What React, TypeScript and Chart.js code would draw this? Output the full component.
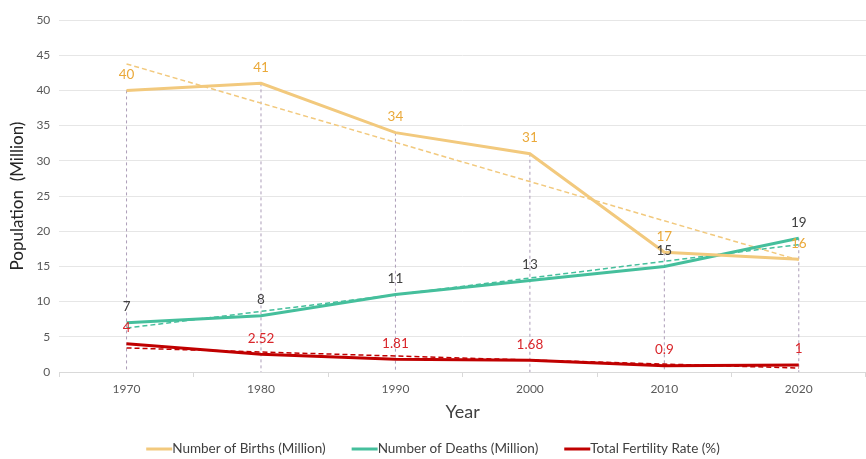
import React, { useEffect, useRef } from "react";
import { Chart, registerables } from "chart.js";

Chart.register(...registerables);

const years = ["1970", "1980", "1990", "2000", "2010", "2020"];
const births = [40, 41, 34, 31, 17, 16];
const deaths = [7, 8, 11, 13, 15, 19];
const fertility = [4, 2.52, 1.81, 1.68, 0.9, 1];
const seriesNames = ["Number of Births (Million)", "Number of Deaths (Million)", "Total Fertility Rate (%)"];

const BIRTH_COLOR = "#F2C97D";
const DEATH_COLOR = "#45BF9C";
const TFR_COLOR = "#C00000";
const LABEL_COLORS = ["#EAA93A", "#404040", "#D9262B"];

function linearTrend(values: number[]): number[] {
  const n = values.length;
  const mx = (n - 1) / 2;
  const my = values.reduce((a, b) => a + b, 0) / n;
  let sxy = 0;
  let sxx = 0;
  values.forEach((v, i) => {
    sxy += (i - mx) * (v - my);
    sxx += (i - mx) * (i - mx);
  });
  const slope = sxy / sxx;
  return values.map((_, i) => my + slope * (i - mx));
}

const dropLines = {
  id: "dropLines",
  beforeDatasetsDraw(chart: any) {
    const { ctx, chartArea, scales } = chart;
    ctx.save();
    ctx.strokeStyle = "#AC9DB8";
    ctx.lineWidth = 1;
    ctx.setLineDash([3, 3]);
    years.forEach((_, i) => {
      const top = Math.max(births[i], deaths[i], fertility[i]);
      const x = scales.x.getPixelForValue(i);
      ctx.beginPath();
      ctx.moveTo(x, scales.y.getPixelForValue(top));
      ctx.lineTo(x, chartArea.bottom);
      ctx.stroke();
    });
    ctx.restore();
  },
};

const valueLabels = {
  id: "valueLabels",
  afterDatasetsDraw(chart: any) {
    const { ctx } = chart;
    ctx.save();
    ctx.font = "13.5px Lato";
    ctx.textAlign = "center";
    ctx.textBaseline = "middle";
    [0, 1, 2].forEach((di) => {
      const meta = chart.getDatasetMeta(di);
      const data = chart.data.datasets[di].data as number[];
      ctx.fillStyle = LABEL_COLORS[di];
      meta.data.forEach((pt: any, i: number) => {
        ctx.fillText(String(data[i]), pt.x, pt.y - 16);
      });
    });
    ctx.restore();
  },
};

const bottomLegend = {
  id: "bottomLegend",
  afterDraw(chart: any) {
    const { ctx } = chart;
    const colors = [BIRTH_COLOR, DEATH_COLOR, TFR_COLOR];
    ctx.save();
    ctx.font = "13.5px Lato";
    ctx.textBaseline = "middle";
    const lineW = 26;
    const gap = 26;
    const widths = seriesNames.map((t) => ctx.measureText(t).width);
    const total = widths.reduce((a, b) => a + b, 0) + lineW * 3 + gap * 2;
    let x = (chart.width - total) / 2;
    const y = 449;
    seriesNames.forEach((t, i) => {
      ctx.strokeStyle = colors[i];
      ctx.lineWidth = 3;
      ctx.beginPath();
      ctx.moveTo(x, y);
      ctx.lineTo(x + lineW, y);
      ctx.stroke();
      ctx.fillStyle = "#404040";
      ctx.fillText(t, x + lineW, y);
      x += lineW + widths[i] + gap;
    });
    ctx.restore();
  },
};

export default function App() {
  const ref = useRef<HTMLCanvasElement>(null);
  useEffect(() => {
    document.body.style.margin = "0";
    const ds = (label: string, data: number[], color: string) => ({
      label,
      data,
      borderColor: color,
      backgroundColor: color,
      borderWidth: 3,
      pointRadius: 0,
      tension: 0,
    });
    const trend = (data: number[], color: string) => ({
      label: "trend",
      data: linearTrend(data),
      borderColor: color,
      backgroundColor: color,
      borderWidth: 1.5,
      borderDash: [5, 3],
      pointRadius: 0,
    });
    const chart = new Chart(ref.current!, {
      type: "line",
      data: {
        labels: years,
        datasets: [
          ds(seriesNames[0], births, BIRTH_COLOR),
          ds(seriesNames[1], deaths, DEATH_COLOR),
          ds(seriesNames[2], fertility, TFR_COLOR),
          trend(births, BIRTH_COLOR),
          trend(deaths, DEATH_COLOR),
          trend(fertility, TFR_COLOR),
        ],
      },
      options: {
        animation: false,
        responsive: false,
        layout: { padding: { top: 20, left: 7, right: 0, bottom: 31 } },
        plugins: {
          tooltip: { enabled: false },
          legend: { display: false },
        },
        scales: {
          x: {
            offset: true,
            grid: { display: true, drawOnChartArea: false, offset: true, tickLength: 5, color: "#D9D9D9" },
            border: { color: "#D9D9D9" },
            ticks: { font: { family: "Lato", size: 12 }, color: "#595959", padding: 5 },
            title: { display: true, text: "Year", font: { family: "Lato", size: 18 }, color: "#404040", padding: { top: 0, bottom: 5 } },
          },
          y: {
            min: 0,
            max: 50,
            ticks: { stepSize: 5, font: { family: "Lato", size: 12 }, color: "#595959", padding: 9 },
            grid: { color: "#E6E6E6", drawTicks: false },
            border: { display: false },
            title: { display: true, text: "Population  (Million)", font: { family: "Lato", size: 17 }, color: "#262626", padding: { top: 0, bottom: 0 } },
          },
        },
      },
      plugins: [dropLines, valueLabels, bottomLegend],
    });
    return () => chart.destroy();
  }, []);
  return <canvas ref={ref} width={866} height={459} style={{ display: "block" }} />;
}
